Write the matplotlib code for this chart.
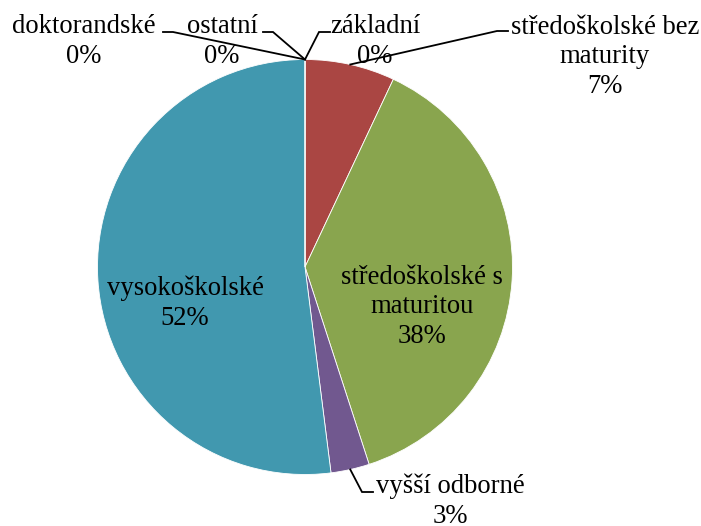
import numpy as np
import matplotlib.pyplot as plt

# Data
categories = ['základní', 'středoškolské bez\nmaturity', 'středoškolské s\nmaturitou',
              'vyšší odborné', 'vysokoškolské', 'doktorandské', 'ostatní']
values = [0, 7, 38, 3, 52, 0, 0]
colors = ['#4572A7', '#AA4643', '#89A54E', '#71588F', '#4198AF', '#DB843D', '#93A9CF']

plt.rcParams['font.family'] = ['Liberation Serif', 'DejaVu Serif']

fig = plt.figure(figsize=(7.01, 5.26), dpi=100)
ax = fig.add_axes([0, 0, 1, 1])

cx, cy, r = 305, 267, 207.5
# y axis is inverted, so counterclock=True draws clockwise on screen
wedges, _ = ax.pie(values, colors=colors, startangle=-90, counterclock=True,
                   center=(cx, cy), radius=r,
                   wedgeprops=dict(edgecolor='white', linewidth=0.6))
ax.set_xlim(0, 701)
ax.set_ylim(526, 0)
ax.set_aspect('equal')
ax.axis('off')

# label layout: text center x, first baseline y, leader end x, leader end y
layout = {
    0: (375, 33, 330, 32),
    1: (605, 33, 508, 31),
    2: (422, 283, None, None),
    3: (450, 493, 373, 492),
    4: (185, 295, None, None),
    5: (84, 33, 163, 32),
    6: (222, 33, 263, 32),
}
line_px = 30

total = sum(values)
cum = 0
for i, (cat, v) in enumerate(zip(categories, values)):
    mid = (cum + v / 2) / total * 2 * np.pi
    cum += v
    tx, ty, lx, ly = layout[i]
    label = f"{cat}\n{v}%"
    # baseline alignment refers to the last line
    ty_last = ty + label.count('\n') * line_px
    ax.text(tx, ty_last, label, ha='center', va='baseline', fontsize=19.2,
            linespacing=1.25, multialignment='center')
    if lx is not None:
        px = cx + r * np.sin(mid)
        py = cy - r * np.cos(mid)
        hx = lx - 11 if lx > px else lx + 10
        ax.plot([px, hx, lx], [py, ly, ly], color='black', lw=1.3,
                solid_joinstyle='miter')

fig.savefig('out.png', dpi=100)
